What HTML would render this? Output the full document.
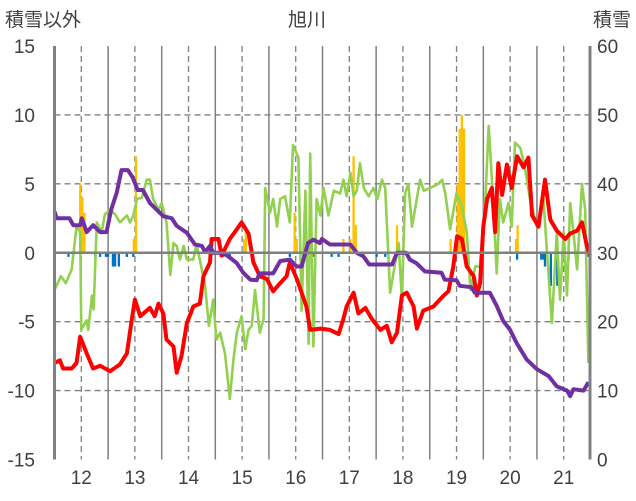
<!DOCTYPE html>
<html><head><meta charset="utf-8"><style>
body{margin:0;background:#fff;}
svg{display:block;font-family:"Liberation Sans","Noto Sans CJK JP",sans-serif;}
</style></head><body>
<svg id="chart" width="636" height="501" viewBox="0 0 636 501">
<text x="5" y="26" font-size="19" fill="#404040">積雪以外</text>
<text x="307" y="26" font-size="19" fill="#404040" text-anchor="middle">旭川</text>
<text x="631" y="26" font-size="19" fill="#404040" text-anchor="end">積雪</text>
<g id="grid"></g><g id="bars"></g><g id="lines"></g><g id="axes"></g>
</svg>
<script>
const dayTicks=[12,13,14,15,16,17,18,19,20,21];
const leftTicks=[15,10,5,0,-5,-10,-15];
const rightTicks=[60,50,40,30,20,10,0];
const redT=[11.5,11.6,11.66,11.82,11.91,11.98,12.1,12.22,12.35,12.54,12.72,12.85,12.94,13.0,13.1,13.28,13.37,13.44,13.53,13.59,13.72,13.78,13.87,13.97,14.09,14.21,14.28,14.4,14.43,14.56,14.62,14.77,14.9,14.99,15.12,15.21,15.33,15.46,15.58,15.71,15.83,15.89,16.02,16.2,16.27,16.46,16.64,16.8,16.89,16.95,17.08,17.17,17.3,17.42,17.58,17.7,17.79,17.89,17.98,18.07,18.2,18.26,18.38,18.57,18.76,18.85,18.94,19.01,19.1,19.19,19.32,19.38,19.44,19.5,19.57,19.66,19.72,19.78,19.85,19.94,20.03,20.13,20.25,20.34,20.41,20.53,20.65,20.75,20.87,21.03,21.12,21.25,21.34,21.43,21.49];
const redV=[-8.0,-7.8,-8.4,-8.4,-8.0,-6.1,-7.3,-8.4,-8.2,-8.6,-8.1,-7.3,-4.9,-3.4,-4.6,-4.0,-4.6,-3.7,-4.4,-6.3,-6.8,-8.7,-7.5,-5.1,-3.9,-3.7,-1.7,-0.7,1.0,1.0,-0.2,1.0,1.7,2.2,1.4,-0.7,-1.7,-1.9,-2.8,-2.2,-1.7,-0.7,-1.9,-3.9,-5.6,-5.5,-5.6,-5.9,-4.8,-3.9,-2.9,-4.4,-4.0,-4.8,-5.6,-5.3,-6.5,-5.8,-3.1,-2.9,-3.9,-5.5,-4.2,-3.9,-3.1,-2.8,-1.0,1.2,1.0,-1.0,-1.7,-3.1,-2.2,1.9,3.9,4.7,1.5,6.5,4.2,6.4,4.7,7.0,6.2,6.9,2.7,1.9,5.3,2.4,1.6,1.0,1.4,1.6,2.2,0.5,-0.2];
const purpleT=[11.5,11.54,11.78,11.85,11.98,12.01,12.1,12.22,12.35,12.47,12.56,12.66,12.75,12.87,12.96,13.05,13.15,13.28,13.4,13.53,13.69,13.78,13.97,14.12,14.25,14.31,14.4,14.46,14.65,14.77,14.9,15.02,15.15,15.27,15.33,15.58,15.71,15.89,16.02,16.11,16.23,16.33,16.45,16.49,16.64,17.02,17.14,17.26,17.37,17.8,17.89,18.06,18.13,18.25,18.41,18.72,18.78,19.0,19.06,19.28,19.34,19.62,19.75,19.87,20.0,20.12,20.31,20.5,20.72,20.87,21.06,21.12,21.18,21.37,21.46];
const purpleV=[36,35,35,34,34,35,33,34,33,33,36.3,38.7,42,42,40.9,39.1,39.1,37.2,36.3,35.3,35,33.9,32.9,31.2,31,30.1,31,30,30,29.3,28.5,27.1,26.1,26,27,27,28.8,29,28,28,31.4,31.9,31.4,32,31.2,31.2,30,29.5,28.3,28.3,30,30,29,28.5,27.3,27.1,26.1,26,25.2,25,24.2,24.2,22.3,20.1,18.8,16.9,14.5,13.1,12.1,10.6,10,9.2,10.2,10,11.2];
const greenT=[11.5,11.62,11.71,11.82,11.91,11.98,12.0,12.1,12.13,12.2,12.23,12.29,12.38,12.44,12.54,12.63,12.72,12.85,12.91,12.97,13.04,13.13,13.22,13.28,13.34,13.44,13.5,13.59,13.66,13.72,13.78,13.84,13.91,13.97,14.09,14.15,14.21,14.31,14.38,14.46,14.52,14.59,14.68,14.77,14.84,14.9,14.99,15.06,15.12,15.18,15.24,15.33,15.4,15.43,15.52,15.58,15.65,15.71,15.8,15.89,15.95,16.05,16.11,16.18,16.24,16.27,16.33,16.39,16.46,16.52,16.61,16.71,16.83,16.89,16.95,17.02,17.08,17.14,17.2,17.27,17.36,17.45,17.52,17.61,17.67,17.76,17.92,17.98,18.04,18.1,18.17,18.32,18.39,18.51,18.66,18.73,18.79,18.88,19.0,19.1,19.19,19.26,19.35,19.44,19.54,19.6,19.69,19.75,19.81,19.87,19.97,20.03,20.09,20.19,20.27,20.37,20.5,20.62,20.68,20.78,20.87,20.93,21.0,21.06,21.12,21.18,21.25,21.34,21.4,21.46];
const greenV=[-2.7,-1.7,-2.2,-1.2,1.9,1.5,-5.6,-4.9,-5.6,-3.1,-4.1,2.2,1.5,2.8,3.1,2.8,2.2,2.7,2.2,2.7,3.9,4.0,5.3,5.3,3.9,3.1,3.6,2.2,-1.6,0.7,0.5,-0.5,0.5,-0.5,-0.5,0.6,-0.5,-2.4,-5.3,-3.4,-6.3,-5.8,-7.3,-10.6,-7.7,-5.8,-4.6,-7.0,-5.6,-5.3,-2.7,-5.8,-4.8,4.7,2.9,3.9,1.9,3.9,4.1,2.2,7.8,6.9,-4.2,4.5,-6.6,7.2,-6.8,3.9,2.7,4.7,2.7,4.5,4.3,5.3,4.1,5.8,4.1,4.5,6.5,4.7,4.1,4.7,3.9,5.3,4.7,-2.9,0.7,-3.4,4.3,5.0,1.9,5.3,4.5,4.7,5.0,5.3,4.3,1.7,4.3,3.4,1.5,-2.7,-1.0,-1.0,4.1,9.2,3.4,-1.5,3.9,2.2,3.6,1.9,8.0,7.6,6.3,3.9,1.9,3.9,0.5,-5.1,1.5,-3.4,1.5,-3.1,3.6,1.5,-1.2,5.0,3.1,-8.0];
const snowT=[11.98,12.02,12.06,12.98,13.02,15.04,15.07,15.98,16.02,16.89,17.02,17.08,17.12,17.89,18.89,19.02,19.06,19.1,19.14,20.11,20.14];
const snowV=[5.0,4.0,2.9,1.0,7.0,1.0,1.9,2.9,1.0,1.0,1.0,7.0,2.0,2.0,1.0,5.0,9.0,10.0,9.0,1.0,2.0];
const meltT=[11.76,11.85,12.26,12.35,12.46,12.5,12.59,12.63,12.7,12.85,12.97,14.6,14.65,14.77,15.89,16.23,16.33,16.67,16.8,17.51,17.67,20.13,20.58,20.62,20.65,20.76,20.88,20.97,21.09,21.46];
const meltV=[-0.3,-0.3,-0.3,-0.3,-0.3,-0.3,-1.0,-1.0,-1.0,-0.3,-0.3,-0.3,-0.3,-0.3,-0.3,-0.3,-0.3,-0.3,-0.3,-0.3,-0.3,-0.5,-0.5,-0.5,-1.0,-2.4,-2.4,-1.0,-0.5,-0.3];

const NS='http://www.w3.org/2000/svg';
const X0=54.5,X1=590,T0=11.5,T1=21.49,YTOP=46,YBOT=459.5;
const x=t=>X0+(t-T0)/(T1-T0)*(X1-X0);
const yL=v=>YTOP+(15-v)/30*(YBOT-YTOP);
const yR=v=>YTOP+(60-v)/60*(YBOT-YTOP);
function mk(tag,attrs,parent){const e=document.createElementNS(NS,tag);for(const k in attrs)e.setAttribute(k,attrs[k]);document.getElementById(parent).appendChild(e);return e;}
leftTicks.forEach(v=>{
  if(v!==0&&Math.abs(v)!==15){const g=mk('line',{x1:X0,x2:X1,y1:yL(v),y2:yL(v),stroke:'#808080','stroke-width':1.3,'stroke-dasharray':'6,4'},'grid');
  
  }
  const t=mk('text',{x:35,y:yL(v)+7,'font-size':19,fill:'#404040','text-anchor':'end'},'axes');t.textContent=v;
  
  
});
rightTicks.forEach(v=>{
  const t=mk('text',{x:597,y:yR(v)+7,'font-size':19,fill:'#404040'},'axes');t.textContent=v;
  
  
});
dayTicks.forEach(d=>{
  const g=mk('line',{x1:x(d),x2:x(d),y1:YTOP,y2:YBOT,stroke:'#808080','stroke-width':1.3,'stroke-dasharray':'6,4'},'grid');
  
  
  const s=mk('line',{x1:x(d+0.5),x2:x(d+0.5),y1:YTOP,y2:YBOT,stroke:'#808080','stroke-width':1.5},'grid');
  
  
  const t=mk('text',{x:x(d),y:484,'font-size':19,fill:'#404040','text-anchor':'middle'},'axes');t.textContent=d;
  
  
});
const z=mk('line',{x1:X0,x2:X1,y1:yL(0),y2:yL(0),stroke:'#808080','stroke-width':2.5},'axes');


const la=mk('line',{x1:X0,x2:X0,y1:YTOP,y2:YBOT,stroke:'#808080','stroke-width':3},'axes');


const ra=mk('line',{x1:X1,x2:X1,y1:YTOP,y2:YBOT,stroke:'#808080','stroke-width':3},'axes');


const bw=2.3;
snowT.forEach((t,i)=>{const v=snowV[i];
  const b=mk('rect',{x:x(t)-bw/2,y:yL(v),width:bw,height:yL(0)-yL(v),fill:'#ffc000'},'bars');
  
  });
meltT.forEach((t,i)=>{const v=meltV[i];
  const b=mk('rect',{x:x(t)-bw/2,y:yL(0),width:bw,height:yL(v)-yL(0),fill:'#0070c0'},'bars');
  
  });
function line(ts,vs,fy,col,w,name){
  const d=ts.map((t,i)=>(i?'L':'M')+x(t).toFixed(1)+','+fy(vs[i]).toFixed(1)).join('');
  const p=mk('path',{d:d,fill:'none',stroke:col,'stroke-width':w,'stroke-linejoin':'round'},'lines');
  
  
}
line(greenT,greenV,yL,'#92d050',2.6,'green-series-line');
line(redT,redV,yL,'#ff0000',4,'temperature-line');
line(purpleT,purpleV,yR,'#7030a0',4,'snow-depth-line');
</script>
</body></html>
